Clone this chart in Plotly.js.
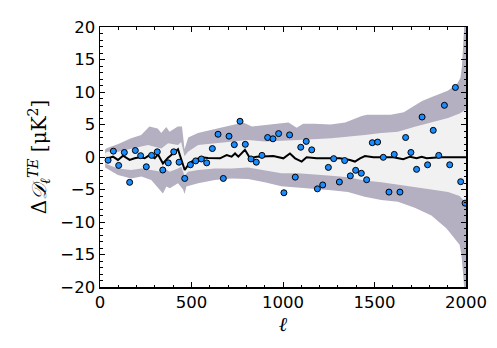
<!DOCTYPE html>
<html>
<head>
<meta charset="utf-8">
<script src="https://cdn.plot.ly/plotly-3.0.1.min.js"></script>
<style>
  html, body { margin: 0; padding: 0; background: #fff; }
  #chart { width: 497px; height: 348px; }
</style>
</head>
<body>
<div id="chart"></div>
<script>
// band edges
const outerTopL = [28, 40, 100, 170, 225, 270, 315, 335, 362, 380, 425, 448, 462, 482, 535, 625, 720, 783, 830, 900, 1000, 1030, 1075, 1110, 1170, 1260, 1340, 1380, 1430, 1460, 1510, 1590, 1660, 1720, 1760, 1820, 1900, 1950, 1970, 1978, 1985, 1990, 2000];
const outerTopV = [1.2, 1.4, 2.0, 2.9, 3.4, 4.7, 4.4, 3.7, 4.6, 3.9, 4.7, 4.7, 1.2, 3.0, 3.7, 4.3, 4.9, 5.3, 4.7, 4.9, 5.1, 5.3, 4.5, 5.1, 5.1, 5.0, 5.3, 5.8, 6.3, 6.5, 6.5, 6.5, 6.9, 7.9, 8.6, 9.3, 10.2, 11.2, 12.2, 14, 17, 20, 20];

const innerTopL = [28, 40, 100, 170, 262, 335, 372, 426, 444, 462, 481, 536, 627, 718, 809, 900, 1000, 1082, 1264, 1355, 1446, 1537, 1628, 1720, 1811, 1902, 1965, 2000];
const innerTopV = [0.6, 0.8, 0.8, 1.3, 1.85, 1.3, 2.1, 1.85, 2.3, 0.1, 0.8, 1.85, 2.1, 2.35, 2.6, 2.4, 2.5, 2.6, 2.9, 3.1, 3.4, 3.7, 3.9, 4.65, 5.3, 6.0, 6.7, 7.3];

const innerBotL = [28, 44, 98, 171, 226, 280, 335, 353, 381, 426, 444, 462, 481, 536, 627, 718, 809, 900, 991, 1082, 1173, 1264, 1355, 1446, 1537, 1628, 1720, 1811, 1902, 1965, 1990, 2000];
const innerBotV = [-1.0, -1.2, -1.75, -2.0, -1.75, -2.0, -2.25, -1.75, -2.25, -1.75, -1.5, -2.9, -2.25, -2.0, -1.75, -1.75, -1.6, -2.0, -2.5, -2.5, -2.75, -2.9, -3.1, -3.6, -3.9, -4.2, -4.6, -5.0, -5.4, -6.0, -6.8, -7.3];

const outerBotL = [28, 44, 98, 171, 226, 280, 344, 363, 381, 426, 454, 462, 472, 536, 627, 718, 809, 900, 991, 1082, 1173, 1264, 1355, 1446, 1537, 1628, 1720, 1811, 1894, 1965, 1975, 1983, 1990, 2000];
const outerBotV = [-1.6, -1.9, -2.75, -3.3, -3.0, -3.55, -5.6, -4.55, -4.8, -4.05, -5.0, -5.7, -4.55, -4.05, -3.55, -3.3, -3.4, -3.9, -4.5, -4.7, -4.9, -5.1, -5.4, -6.1, -6.6, -6.9, -7.8, -9.0, -11.0, -13.5, -15, -18, -20, -20];

// black curve
const lineL = [35, 44, 71, 98, 126, 162, 189, 217, 244, 271, 299, 317, 344, 372, 399, 426, 463, 490, 517, 554, 590, 656, 692, 719, 738, 756, 792, 820, 856, 893, 947, 1002, 1038, 1066, 1102, 1129, 1184, 1275, 1311, 1366, 1393, 1421, 1448, 1494, 1603, 1657, 1694, 1730, 1758, 1785, 1858, 2000];
const lineV = [-0.1, -0.2, 0.05, -0.45, 0.2, -0.45, -0.2, -0.05, -0.2, 0.3, -0.2, 0.4, -1.0, -0.1, 0.55, 1.2, -2.0, -0.9, -0.45, -0.05, -0.15, -0.2, 0.3, 0.05, 0.55, 0.05, 1.1, -0.2, 0.05, 0.05, 0.15, -0.2, 0.55, -0.2, -0.7, -0.05, -0.2, -0.2, -0.2, -0.45, -0.7, -0.2, 0.15, -0.05, -0.05, -0.35, 0.05, -0.2, 0.05, -0.2, -0.05, -0.05];

// binned residuals
const dataL = [44, 73, 102, 133, 162, 193, 222, 253, 282, 313, 343, 373, 403, 432, 463, 494, 523, 554, 583, 614, 645, 674, 705, 734, 765, 794, 825, 854, 885, 916, 945, 976, 1005, 1036, 1067, 1097, 1127, 1157, 1188, 1217, 1248, 1277, 1308, 1337, 1368, 1397, 1428, 1457, 1488, 1517, 1548, 1579, 1608, 1639, 1670, 1699, 1730, 1760, 1790, 1821, 1851, 1882, 1911, 1942, 1971, 1995];
const dataV = [-0.5, 0.9, -1.3, 0.7, -3.9, 1.0, 0.2, -1.5, 0.25, 0.8, -2.0, -0.9, 0.8, -0.8, -3.3, -1.2, -0.6, -0.3, -0.9, 1.3, 3.5, -3.3, 3.2, 1.9, 5.5, 1.95, -0.3, -0.8, 0.25, 3.0, 2.8, 3.6, -5.5, 3.4, -3.1, 1.5, 2.4, 1.1, -4.9, -4.3, -1.6, -0.25, -3.85, -0.55, -2.9, -2.05, -2.5, -3.5, 2.2, 2.3, -0.05, -5.4, 0.4, -5.4, 3.0, 0.7, -1.9, 6.15, -1.2, 4.1, 0.25, 7.95, -1.2, 10.7, -3.8, -7.1];

// closed polygon: top edge forward, bottom edge back
function band(topL, topV, botL, botV, color) {
    return {
        x: topL.concat(botL.slice().reverse()),
        y: topV.concat(botV.slice().reverse()),
        type: 'scatter', mode: 'lines',
        fill: 'toself', fillcolor: color,
        line: { width: 0 },
        hoverinfo: 'skip'
    };
}

const traces = [
    band(outerTopL, outerTopV, outerBotL, outerBotV, '#b4afc1'),
    band(innerTopL, innerTopV, innerBotL, innerBotV, '#f1f1f1'),
    {
        x: lineL, y: lineV,
        type: 'scatter', mode: 'lines',
        line: { color: '#000', width: 2 }
    },
    {
        x: dataL, y: dataV,
        type: 'scatter', mode: 'markers',
        marker: { color: '#1a8cff', size: 6, line: { color: '#000', width: 1 } }
    }
];

const axisBase = {
    showline: true, linecolor: '#000', linewidth: 1.5,
    mirror: 'allticks',
    ticks: 'inside', ticklen: 5, tickwidth: 1, tickcolor: '#000',
    showgrid: false, zeroline: false,
    tickfont: { family: 'DejaVu Sans', size: 16.5, color: '#000' }
};

const layout = {
    width: 497, height: 348,
    margin: { l: 100, r: 31, t: 27, b: 61 },
    paper_bgcolor: '#fff', plot_bgcolor: '#fff',
    showlegend: false,
    xaxis: {
        ...axisBase,
        range: [0, 2000], dtick: 500,
        minor: { ticks: 'inside', ticklen: 2.5, dtick: 100, tickcolor: '#000', tickwidth: 1 },
        title: { text: '<i>ℓ</i>', font: { family: 'DejaVu Serif', size: 20, color: '#000' }, standoff: 4 }
    },
    yaxis: {
        ...axisBase,
        range: [-20, 20], dtick: 5,
        minor: { ticks: 'inside', ticklen: 2.5, dtick: 1, tickcolor: '#000', tickwidth: 1 },
        title: {
            text: 'Δ<i>𝒟</i><sub><i>ℓ</i></sub><sup><i>TE</i></sup> [μK<sup>2</sup>]',
            font: { family: 'DejaVu Serif', size: 20, color: '#000' },
            standoff: 8
        }
    }
};

Plotly.newPlot('chart', traces, layout, { displayModeBar: false, staticPlot: true });
</script>
</body>
</html>
